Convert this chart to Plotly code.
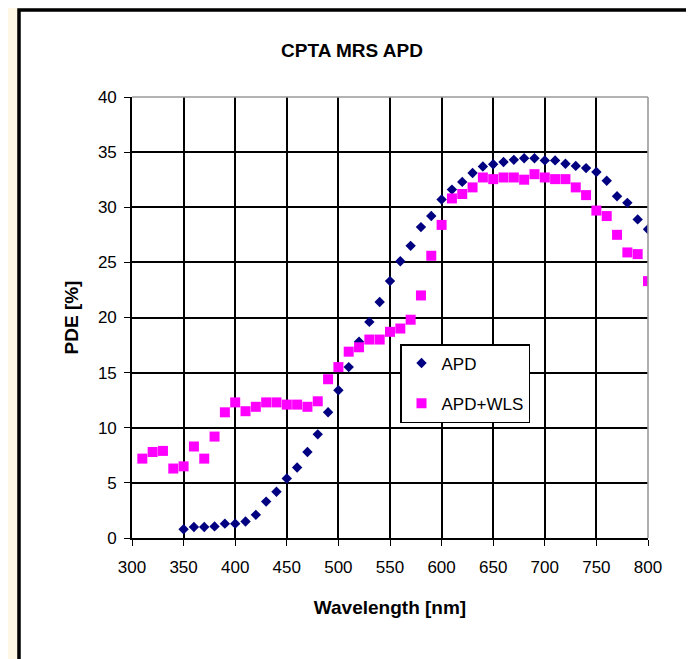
import plotly.graph_objects as go

# ---- data ----
apd_wavelength = [350, 360, 370, 380, 390, 400, 410, 420, 430, 440,
                  450, 460, 470, 480, 490, 500, 510, 520, 530, 540,
                  550, 560, 570, 580, 590, 600, 610, 620, 630, 640,
                  650, 660, 670, 680, 690, 700, 710, 720, 730, 740,
                  750, 760, 770, 780, 790, 800]
apd_pde = [0.8, 1.0, 1.0, 1.05, 1.3, 1.3, 1.5, 2.1, 3.3, 4.2,
           5.4, 6.4, 7.8, 9.4, 11.4, 13.4, 15.5, 17.8, 19.6, 21.4,
           23.3, 25.1, 26.5, 28.2, 29.2, 30.7, 31.6, 32.3, 33.1, 33.7,
           33.9, 34.1, 34.3, 34.45, 34.45, 34.25, 34.25, 33.95, 33.75, 33.55,
           33.2, 32.4, 31.0, 30.4, 28.9, 28.0]

wls_wavelength = [310, 320, 330, 340, 350, 360, 370, 380, 390, 400,
                  410, 420, 430, 440, 450, 460, 470, 480, 490, 500,
                  510, 520, 530, 540, 550, 560, 570, 580, 590, 600,
                  610, 620, 630, 640, 650, 660, 670, 680, 690, 700,
                  710, 720, 730, 740, 750, 760, 770, 780, 790, 800]
wls_pde = [7.2, 7.8, 7.9, 6.3, 6.5, 8.3, 7.2, 9.2, 11.4, 12.3,
           11.5, 11.9, 12.3, 12.3, 12.1, 12.1, 11.9, 12.4, 14.4, 15.5,
           16.9, 17.3, 18.0, 18.0, 18.7, 19.0, 19.8, 22.0, 25.6, 28.4,
           30.8, 31.2, 31.8, 32.7, 32.55, 32.7, 32.7, 32.5, 33.0, 32.7,
           32.55, 32.55, 31.8, 31.1, 29.7, 29.2, 27.5, 25.9, 25.75, 23.3]

x_ticks = [300, 350, 400, 450, 500, 550, 600, 650, 700, 750, 800]
y_ticks = [0, 5, 10, 15, 20, 25, 30, 35, 40]

# ---- layout geometry (screen pixels; the page body adds an 8px offset) ----
OFF = 8
W, H = 694 - OFF, 659 - OFF
L, T = 132 - OFF, 97 - OFF
R = W - (648 - OFF)
B = H - (538 - OFF)
PW, PH = W - L - R, H - T - B


def px(x):  # screen x -> paper
    return (x - OFF - L) / PW


def py(y):  # screen y -> paper
    return (H - B - (y - OFF)) / PH


FONT = "Liberation Sans, Arial, sans-serif"

fig = go.Figure()
fig.add_trace(go.Scatter(
    x=apd_wavelength, y=apd_pde, mode="markers", name="APD",
    legendgroup="a",
    marker=dict(symbol="diamond", size=8, color="#000080", line=dict(width=0)),
))
fig.add_trace(go.Scatter(
    x=wls_wavelength, y=wls_pde, mode="markers", name="APD+WLS",
    legendgroup="b",
    marker=dict(symbol="square", size=10, color="#FF00FF", line=dict(width=0)),
))

axis_common = dict(
    showgrid=True, gridcolor="#000000", gridwidth=1.6,
    showline=True, linecolor="#000000", linewidth=1.6,
    ticks="outside", ticklen=6, tickwidth=1.4, tickcolor="#000000",
    zeroline=False,
    tickfont=dict(family=FONT, size=17, color="#000000"),
)

fig.update_layout(
    width=W, height=H,
    margin=dict(l=L, r=R, t=T, b=B, pad=0),
    paper_bgcolor="#FFF7E6",
    plot_bgcolor="#FFFFFF",
    font=dict(family=FONT, color="#000000"),
    title=dict(
        text="<b>CPTA MRS APD</b>",
        x=px(352), xref="paper", xanchor="center",
        y=1 - (50 - OFF) / H, yref="container", yanchor="middle",
        font=dict(family=FONT, size=19, color="#000000"),
    ),
    xaxis=dict(
        range=[300, 800], tickmode="array", tickvals=x_ticks,
        ticklabelstandoff=7,
        title=dict(text="<b>Wavelength [nm]</b>", standoff=24,
                   font=dict(family=FONT, size=19, color="#000000")),
        **axis_common,
    ),
    yaxis=dict(
        range=[0, 40], tickmode="array", tickvals=y_ticks,
        ticklabelstandoff=4,
        title=dict(text="<b>PDE [%]</b>", standoff=14,
                   font=dict(family=FONT, size=19, color="#000000")),
        **axis_common,
    ),
    legend=dict(
        x=px(400), y=py(344), xanchor="left", yanchor="top",
        bgcolor="#FFFFFF", bordercolor="#000000", borderwidth=1.5,
        font=dict(family=FONT, size=17, color="#000000"),
        tracegroupgap=15,
    ),
    showlegend=True,
)

# white chart panel with black border (left/top visible)
fig.add_shape(type="rect", xref="paper", yref="paper", layer="below",
              x0=px(19), x1=px(760), y0=py(760), y1=py(10),
              fillcolor="#FFFFFF", line=dict(color="#000000", width=3.5))
# gray top/right border of plot area
fig.add_shape(type="line", xref="paper", yref="paper", layer="above",
              x0=0, x1=1, y0=1, y1=1, line=dict(color="#9A9A9A", width=1.6))
fig.add_shape(type="line", xref="paper", yref="paper", layer="above",
              x0=1, x1=1, y0=0, y1=1, line=dict(color="#9A9A9A", width=1.6))

fig.write_html("out.html")
